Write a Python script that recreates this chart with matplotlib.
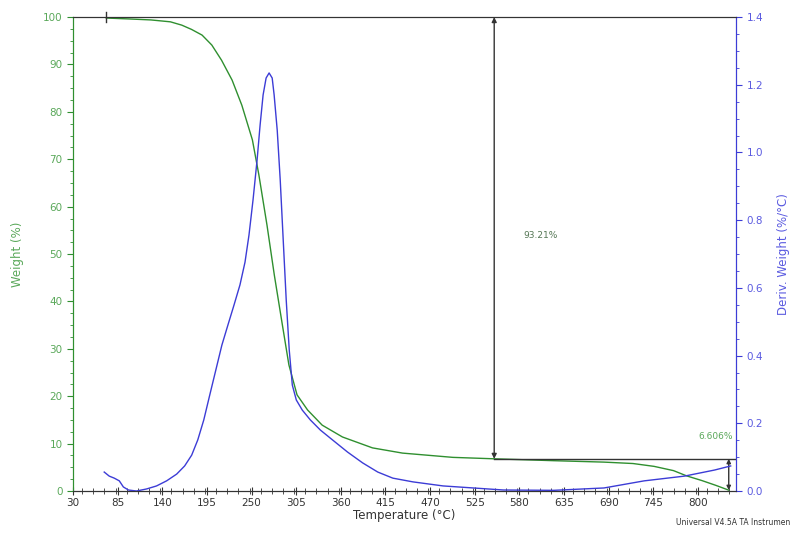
import matplotlib
matplotlib.use("Agg")
import matplotlib.pyplot as plt
from matplotlib.ticker import MultipleLocator, FixedLocator, FormatStrFormatter

# Weight curve (%)
w_temp = [71, 100, 126, 150, 164, 176, 189, 201, 213, 226, 238, 251, 259, 269, 278, 288, 296, 306, 319, 337, 362, 399, 436, 498, 550, 622, 684, 720, 746, 770, 786, 805, 822, 838]
w_val = [99.8, 99.6, 99.4, 99.0, 98.3, 97.4, 96.2, 94.1, 90.9, 86.7, 81.4, 74.1, 66.7, 56.1, 45.6, 35.0, 26.6, 20.3, 17.1, 13.9, 11.4, 9.1, 8.0, 7.1, 6.79, 6.4, 6.1, 5.8, 5.2, 4.3, 3.2, 2.2, 1.2, 0.18]

# Derivative weight curve (%/°C)
d_temp = [68.4, 74.6, 80.8, 87.0, 92.0, 98.2, 108.1, 120.5, 132.9, 145.3, 157.7, 167.5, 176.2, 183.7, 191.1, 198.5, 206.0, 213.4, 220.8, 228.3, 235.7, 241.9, 246.8, 251.8, 256.8, 260.5, 264.2, 267.9, 271.6, 275.4, 277.8, 281.6, 285.3, 289.0, 292.7, 296.4, 300.2, 305.1, 312.5, 322.4, 334.8, 349.7, 368.3, 386.9, 405.5, 424.1, 448.8, 486.0, 523.2, 560.4, 622.3, 684.3, 733.8, 783.4, 820.6, 840.4]
d_val = [0.056, 0.044, 0.038, 0.030, 0.012, 0.003, 0.0, 0.006, 0.015, 0.030, 0.050, 0.074, 0.106, 0.151, 0.210, 0.284, 0.358, 0.431, 0.490, 0.549, 0.609, 0.676, 0.756, 0.860, 0.978, 1.081, 1.170, 1.220, 1.235, 1.220, 1.170, 1.066, 0.919, 0.741, 0.564, 0.417, 0.313, 0.269, 0.239, 0.210, 0.180, 0.151, 0.115, 0.083, 0.056, 0.038, 0.027, 0.015, 0.009, 0.003, 0.002, 0.009, 0.030, 0.044, 0.062, 0.074]

x_ticks = [30, 85, 140, 195, 250, 305, 360, 415, 470, 525, 580, 635, 690, 745, 800]
loss_label = "93.21%"
resid_label = "6.606%"
step_temp = 549
start_temp = 71
end_temp = 838
step_w = 6.79
end_w = 0.18

green = "#2f8f2f"
green_txt = "#5aa85a"
blue = "#3c3cd6"
blue_txt = "#5a5ae0"
grey = "#333333"

fig = plt.figure(figsize=(7.94, 5.34), dpi=100)
ax = fig.add_axes([0.092, 0.0805, 0.835, 0.8875])
ax2 = ax.twinx()

ax.plot(w_temp, w_val, color=green, lw=1.0)
ax2.plot(d_temp, d_val, color=blue, lw=1.0)

ax.set_xlim(30, 847)
ax.set_ylim(0, 100)
ax2.set_ylim(0, 1.4)

ax.xaxis.set_major_locator(FixedLocator(x_ticks))
ax.xaxis.set_minor_locator(MultipleLocator(13.75))
ax.yaxis.set_major_locator(MultipleLocator(10))
ax.yaxis.set_minor_locator(MultipleLocator(2.5))
ax2.yaxis.set_major_locator(MultipleLocator(0.2))
ax2.yaxis.set_minor_locator(MultipleLocator(0.05))

fs = 7.5
ax.tick_params(axis="x", colors=grey, labelsize=fs, direction="inout", length=6, width=0.8, pad=2)
ax.tick_params(axis="x", which="minor", direction="inout", length=4, colors=grey)
ax.tick_params(axis="y", colors=green, labelcolor=green_txt, labelsize=fs, direction="out", length=4)
ax.tick_params(axis="y", which="minor", colors=green, direction="out", length=2)
ax2.tick_params(axis="y", colors=blue, labelcolor=blue_txt, labelsize=fs, direction="out", length=4)
ax2.tick_params(axis="y", which="minor", colors=blue, direction="out", length=2)
ax2.yaxis.set_major_formatter(FormatStrFormatter("%.1f"))

for a in (ax, ax2):
    a.spines["left"].set_color(green)
    a.spines["right"].set_color(blue)
    a.spines["top"].set_color(grey)
    a.spines["bottom"].set_color(grey)

ax.set_xlabel("Temperature (°C)", fontsize=8.5, color=grey, labelpad=1)
ax.set_ylabel("Weight (%)", fontsize=8.5, color=green_txt, labelpad=14)
ax2.set_ylabel("Deriv. Weight (%/°C)", fontsize=8.5, color=blue_txt, labelpad=10)

# Annotations
ax.plot([start_temp, start_temp], [99, 101], color=grey, lw=1, clip_on=False)
ax.annotate("", xy=(step_temp, 100), xytext=(step_temp, step_w),
            arrowprops=dict(arrowstyle="<|-|>", color=grey, lw=1, mutation_scale=7, shrinkA=0, shrinkB=0))
ax.plot([step_temp, 847], [step_w, step_w], color=grey, lw=1)
ax.annotate("", xy=(end_temp, step_w), xytext=(end_temp, end_w),
            arrowprops=dict(arrowstyle="<|-|>", color=grey, lw=1, mutation_scale=6, shrinkA=0, shrinkB=0))
ax.text(606, 54.0, loss_label, fontsize=6.5, color="#557755", ha="center", va="center")
ax.text(822, 11.6, resid_label, fontsize=6.5, color=green_txt, ha="center", va="center")

fig.text(0.995, 0.022, "Universal V4.5A TA Instrumen", fontsize=5.5, color=grey, ha="right", va="center")

fig.savefig("out.png", dpi=100, facecolor="white")
